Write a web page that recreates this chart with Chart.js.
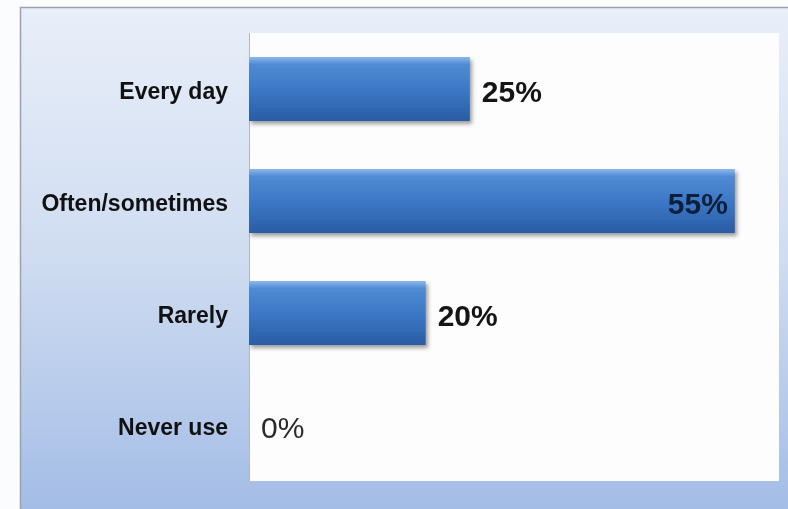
<!DOCTYPE html>
<html>
<head>
<meta charset="utf-8">
<script src="https://cdn.jsdelivr.net/npm/chart.js@4/dist/chart.umd.min.js"></script>
<style>
    html, body { margin: 0; padding: 0; background: #ffffff; }
    #wrap { width: 788px; height: 509px; }
</style>
</head>
<body>
<div id="wrap"><canvas id="usage-chart" width="788" height="509"></canvas></div>
<script>
// How often the service is used
const categories = ["Every day", "Often/sometimes", "Rarely", "Never use"];
const shares = [25, 55, 20, 0];
const xMax = 60;

// Light blue frame behind the chart with a white plot area
const framePlugin = {
    id: "frame",
    beforeDraw(chart) {
        const ctx = chart.ctx;
        const area = chart.chartArea;
        ctx.save();
        ctx.fillStyle = "#fbfcfe";
        ctx.fillRect(0, 0, chart.width, chart.height);

        const grad = ctx.createLinearGradient(0, 7, 0, chart.height);
        grad.addColorStop(0, "#e9eff9");
        grad.addColorStop(0.5, "#cfdcf1");
        grad.addColorStop(1, "#a4bde6");
        ctx.fillStyle = grad;
        ctx.fillRect(20, 7, chart.width - 20, chart.height - 7);
        ctx.strokeStyle = "#9aa3ad";
        ctx.lineWidth = 1.5;
        ctx.beginPath();
        ctx.moveTo(20.5, chart.height);
        ctx.lineTo(20.5, 7.5);
        ctx.lineTo(chart.width, 7.5);
        ctx.stroke();

        ctx.fillStyle = "#fdfdfd";
        ctx.fillRect(area.left, area.top, area.right - area.left, area.bottom - area.top);
        ctx.restore();
    }
};

// Soft drop shadow under the bars
const shadowPlugin = {
    id: "barShadow",
    beforeDatasetDraw(chart) {
        const ctx = chart.ctx;
        ctx.save();
        ctx.shadowColor = "rgba(40,40,40,0.45)";
        ctx.shadowBlur = 4;
        ctx.shadowOffsetX = 2;
        ctx.shadowOffsetY = 3;
    },
    afterDatasetDraw(chart) {
        chart.ctx.restore();
    }
};

// Percent labels at the end of each bar
const valueLabels = {
    id: "valueLabels",
    afterDatasetsDraw(chart) {
        const ctx = chart.ctx;
        const meta = chart.getDatasetMeta(0);
        ctx.save();
        ctx.textBaseline = "middle";
        meta.data.forEach((bar, i) => {
            const text = shares[i] + "%";
            ctx.font = (shares[i] === 0 ? "" : "bold ") + "30px 'Liberation Sans', Arial, sans-serif";
            const w = ctx.measureText(text).width;
            const y = bar.y + 5;
            if (bar.x + 12 + w > chart.chartArea.right) {
                ctx.textAlign = "right";
                ctx.fillStyle = "#0d1f3a";
                ctx.fillText(text, bar.x - 7, y);
            } else {
                ctx.textAlign = "left";
                ctx.fillStyle = shares[i] === 0 ? "#2a2a2a" : "#151515";
                ctx.fillText(text, bar.x + 12, y);
            }
        });
        ctx.restore();
    }
};

function barGradient(context) {
    const chart = context.chart;
    const yScale = chart.scales.y;
    if (!yScale || !chart.chartArea) return "#3d78c4";
    const centre = yScale.getPixelForValue(context.dataIndex);
    const half = (chart.chartArea.bottom - chart.chartArea.top) / categories.length * 0.57 / 2;
    const grad = chart.ctx.createLinearGradient(0, centre - half, 0, centre + half);
    grad.addColorStop(0, "#8ab8ea");
    grad.addColorStop(0.12, "#4f8ad3");
    grad.addColorStop(0.55, "#3a76c5");
    grad.addColorStop(1, "#2a5ca3");
    return grad;
}

new Chart(document.getElementById("usage-chart").getContext("2d"), {
    type: "bar",
    data: {
        labels: categories,
        datasets: [{
            data: shares,
            backgroundColor: barGradient,
            borderWidth: 0,
            barPercentage: 0.57,
            categoryPercentage: 1
        }]
    },
    options: {
        indexAxis: "y",
        responsive: false,
        animation: false,
        layout: { padding: { top: 33, right: 9, bottom: 28, left: 0 } },
        plugins: {
            legend: { display: false },
            tooltip: { enabled: false }
        },
        scales: {
            x: {
                display: false,
                min: 0,
                max: xMax
            },
            y: {
                afterFit: scale => {
                    scale.width = 249;
                    scale.paddingTop = 0;
                    scale.paddingBottom = 0;
                },
                grid: { display: false, drawTicks: false },
                border: { display: true, color: "#b4b8be", width: 1 },
                ticks: {
                    padding: 21,
                    labelOffset: 4,
                    color: "#111111",
                    font: { family: "'Liberation Sans', Arial, sans-serif", size: 23, weight: "bold" }
                }
            }
        }
    },
    plugins: [framePlugin, shadowPlugin, valueLabels]
});
</script>
</body>
</html>
